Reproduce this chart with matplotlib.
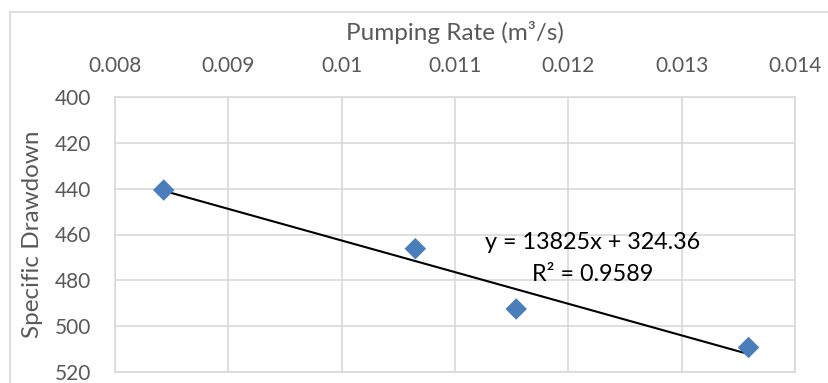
import matplotlib
matplotlib.use("Agg")
import matplotlib.pyplot as plt
from matplotlib.patches import Rectangle
import numpy as np

# Data
pumping_rate = [0.00843, 0.01065, 0.01154, 0.01359]
specific_drawdown = [440.6, 466.2, 492.5, 509.3]
x_ticks = [0.008, 0.009, 0.010, 0.011, 0.012, 0.013, 0.014]
x_tick_labels = ["0.008", "0.009", "0.01", "0.011", "0.012", "0.013", "0.014"]
y_ticks = [400, 420, 440, 460, 480, 500, 520]
equation_text = "y = 13825x + 324.36\nR\u00b2 = 0.9589"

plt.rcParams['font.family'] = ['Lato', 'DejaVu Sans']

fig = plt.figure(figsize=(8.29, 3.83), dpi=100)
ax = fig.add_axes([115/829, 1-372/383, (795-115)/829, (372-97)/383])

grid_c = "#D9D9D9"
text_c = "#595959"

# Outer chart border
fig.patches.append(Rectangle((10/829, -0.1), 1.2, 1 - 12/383 + 0.1, transform=fig.transFigure,
                             fill=False, edgecolor=grid_c, linewidth=1.2, zorder=0))

ax.scatter(pumping_rate, specific_drawdown, marker='D', s=120, color="#4A7EBB",
           edgecolors="none", zorder=3)

coef = np.polyfit(pumping_rate, specific_drawdown, 1)
xs = np.array([min(pumping_rate), max(pumping_rate)])
ax.plot(xs, np.polyval(coef, xs), color="black", linewidth=1.5, zorder=2)

ax.set_xlim(0.008, 0.014)
ax.set_ylim(520, 400)
ax.xaxis.tick_top()
ax.set_xticks(x_ticks)
ax.set_xticklabels(x_tick_labels)
ax.set_yticks(y_ticks)
ax.tick_params(length=0, labelsize=15, labelcolor=text_c)
ax.tick_params(axis='x', pad=15)
ax.tick_params(axis='y', pad=17)
ax.grid(True, color=grid_c, linewidth=1.2)
ax.set_axisbelow(True)
for s in ax.spines.values():
    s.set_color(grid_c)
    s.set_linewidth(1.2)

fig.text(455/829, 1-33/383, "Pumping Rate (m\u00b3/s)", fontsize=17.5, color=text_c,
         ha="center", va="center")
fig.text(33/829, 1-234/383, "Specific Drawdown", fontsize=17.5, color=text_c,
         ha="center", va="center", rotation=90)

ax.text(0.012218, 470.5, equation_text, fontsize=16.8, color="black", ha="center",
        va="center", multialignment="center", linespacing=1.62, zorder=4)

fig.savefig("out.png", dpi=100)
